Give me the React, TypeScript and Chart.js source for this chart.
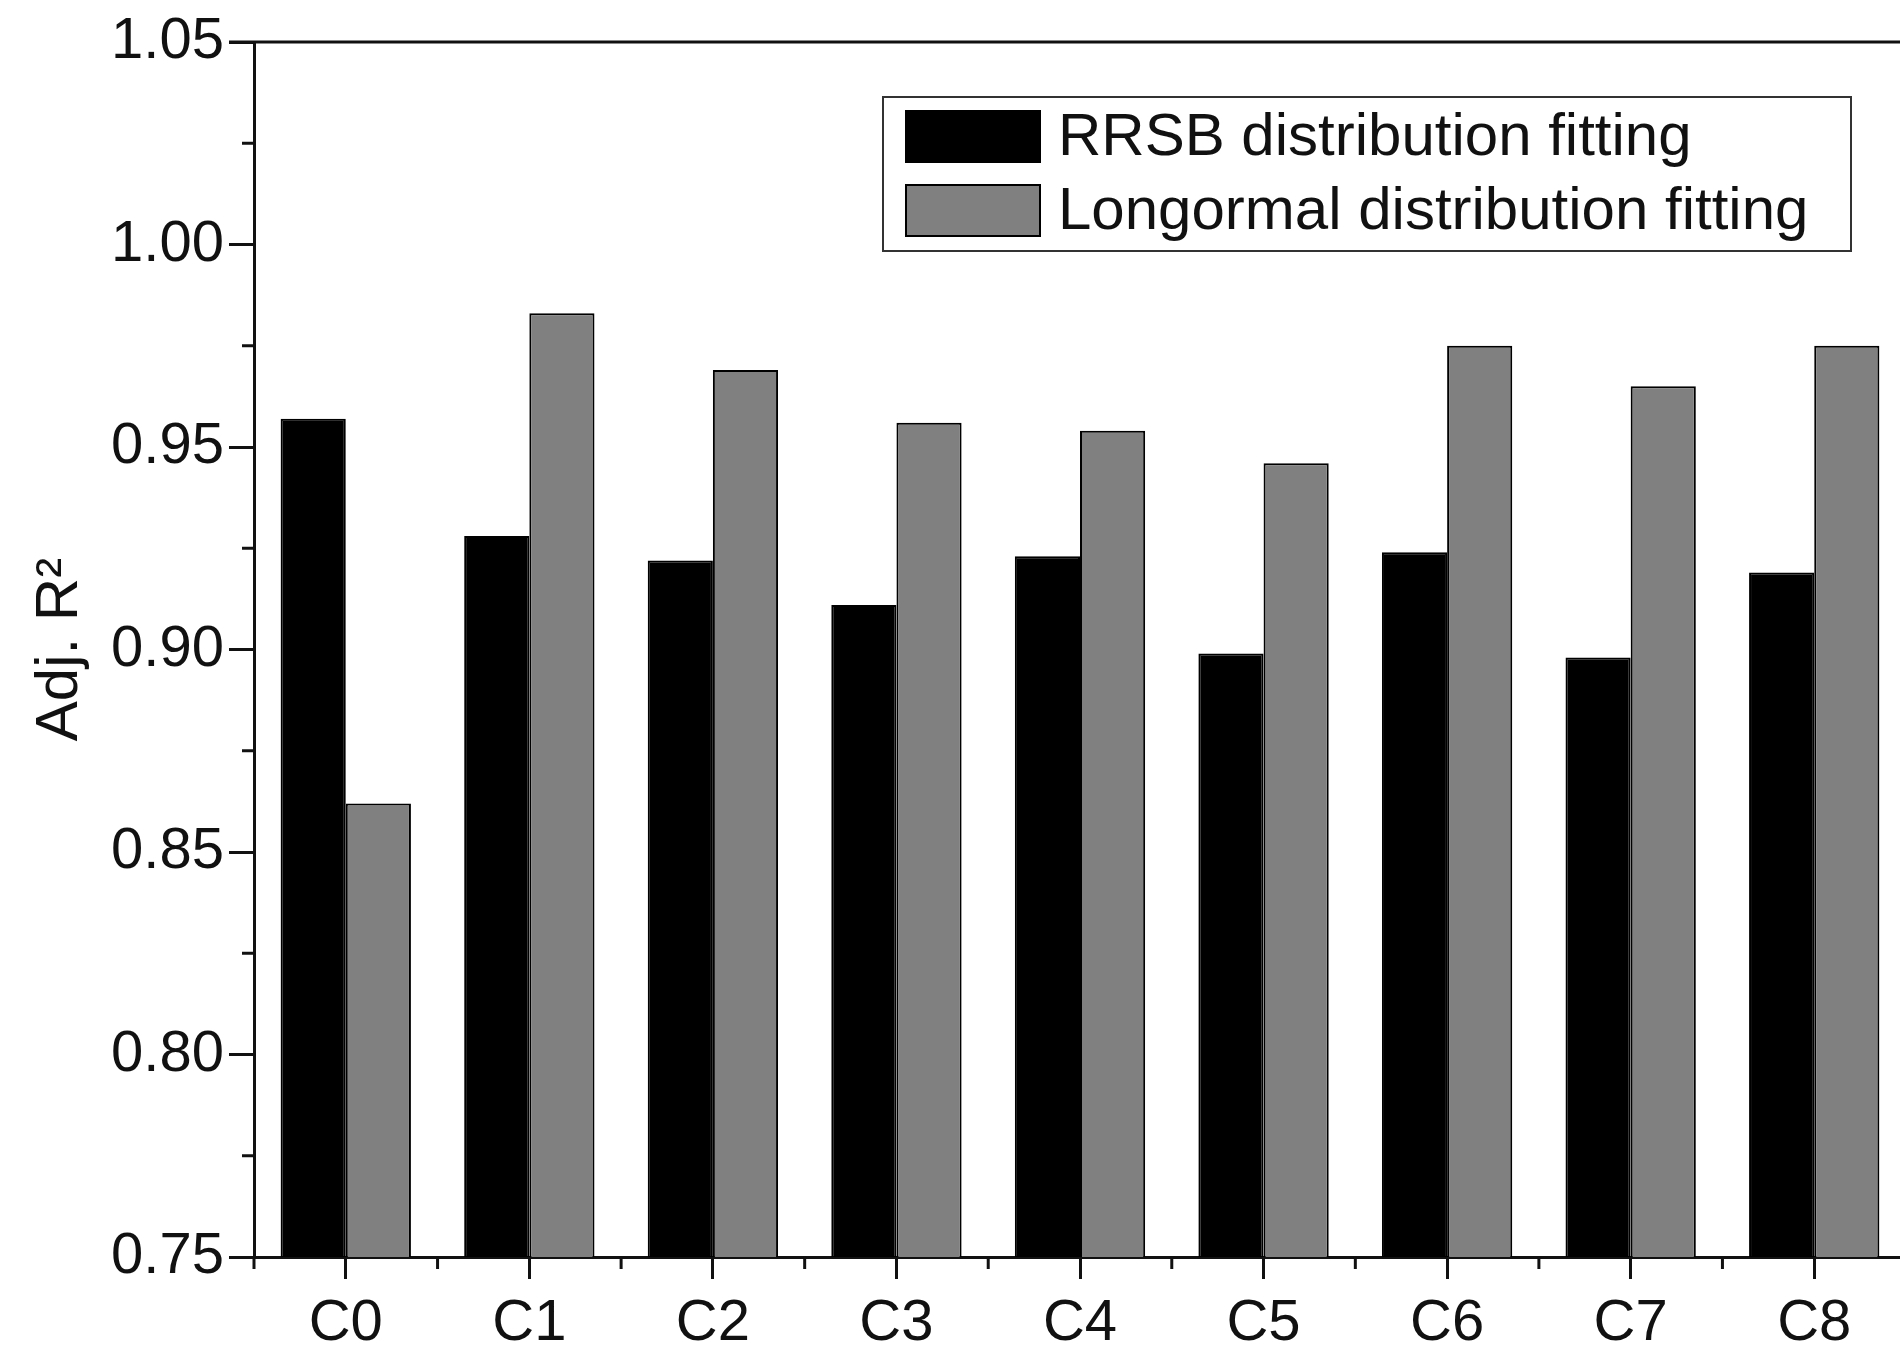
import React, { useEffect, useRef } from "react";
import { Chart, registerables } from "chart.js";

Chart.register(...registerables);

const categories = ["C0", "C1", "C2", "C3", "C4", "C5", "C6", "C7", "C8"];
const rrsbValues = [0.957, 0.928, 0.922, 0.911, 0.923, 0.899, 0.924, 0.898, 0.919];
const lognormalValues = [0.862, 0.983, 0.969, 0.956, 0.954, 0.946, 0.975, 0.965, 0.975];
const seriesLabels = ["RRSB distribution fitting", "Longormal distribution fitting"];
const seriesColors = ["#000000", "#808080"];
const yMin = 0.75;
const yMax = 1.05;
const yStep = 0.05;

const FONT = "'Liberation Sans', Arial, sans-serif";

const framePlugin = {
  id: "frame",
  afterDraw(chart: any) {
    const ctx = chart.ctx;
    const { left, right, top, bottom } = chart.chartArea;
    const xs = chart.scales.x;
    const ys = chart.scales.y;
    ctx.save();
    ctx.strokeStyle = "#111";
    ctx.lineWidth = 3;
    // top border
    ctx.beginPath();
    ctx.moveTo(left - 25, top);
    ctx.lineTo(right, top);
    ctx.stroke();
    // y minor ticks
    for (let v = yMin + yStep / 2; v < yMax; v += yStep) {
      const y = ys.getPixelForValue(v);
      ctx.beginPath();
      ctx.moveTo(left - 12, y);
      ctx.lineTo(left, y);
      ctx.stroke();
    }
    // x minor ticks at category boundaries
    const n = categories.length;
    const spacing = n > 1 ? xs.getPixelForValue(1) - xs.getPixelForValue(0) : right - left;
    for (let i = 0; i <= n; i++) {
      const x = xs.getPixelForValue(0) + (i - 0.5) * spacing;
      ctx.beginPath();
      ctx.moveTo(x, bottom);
      ctx.lineTo(x, bottom + 12);
      ctx.stroke();
    }
    // legend
    const bx = 883, by = 97, bw = 968, bh = 154;
    ctx.lineWidth = 2;
    ctx.strokeStyle = "#333";
    ctx.fillStyle = "#fff";
    ctx.fillRect(bx, by, bw, bh);
    ctx.strokeRect(bx, by, bw, bh);
    ctx.font = `60px ${FONT}`;
    ctx.textBaseline = "middle";
    ctx.textAlign = "left";
    chart.data.datasets.forEach((ds: any, i: number) => {
      const sy = 111 + i * 74;
      ctx.fillStyle = ds.backgroundColor;
      ctx.fillRect(906, sy, 134, 51);
      ctx.strokeStyle = "#000";
      ctx.lineWidth = 2;
      ctx.strokeRect(906, sy, 134, 51);
      ctx.fillStyle = "#111";
      ctx.fillText(ds.label, 1058, sy + 27);
    });
    ctx.restore();
  },
};

export default function App() {
  const ref = useRef<HTMLCanvasElement | null>(null);
  useEffect(() => {
    if (!ref.current) return;
    const chart = new Chart(ref.current, {
      type: "bar",
      data: {
        labels: categories,
        datasets: [
          {
            label: seriesLabels[0],
            data: rrsbValues,
            backgroundColor: seriesColors[0],
            borderColor: "#000",
            borderWidth: 2,
          },
          {
            label: seriesLabels[1],
            data: lognormalValues,
            backgroundColor: seriesColors[1],
            borderColor: "#000",
            borderWidth: 2,
          },
        ],
      },
      options: {
        responsive: false,
        animation: false,
        layout: { padding: { left: 0, right: 0, top: 42, bottom: 0 } },
        datasets: { bar: { categoryPercentage: 0.71, barPercentage: 1 } },
        plugins: {
          legend: { display: false },
          tooltip: { enabled: false },
        },
        scales: {
          x: {
            type: "category",
            offset: true,
            grid: {
              display: true,
              offset: false,
              drawOnChartArea: false,
              drawTicks: true,
              tickLength: 22,
              color: "#111",
              lineWidth: 3,
            },
            border: { display: true, color: "#111", width: 3 },
            ticks: {
              color: "#111",
              font: { family: FONT, size: 58 },
              padding: 10,
              maxRotation: 0,
              autoSkip: false,
            },
            afterFit(scale: any) {
              scale.height = 92;
            },
          },
          y: {
            min: yMin,
            max: yMax,
            grid: {
              display: true,
              drawOnChartArea: false,
              drawTicks: true,
              tickLength: 25,
              color: "#111",
              lineWidth: 3,
            },
            border: { display: true, color: "#111", width: 3 },
            ticks: {
              stepSize: yStep,
              color: "#111",
              font: { family: FONT, size: 58 },
              padding: 5,
              callback: (v: any) => Number(v).toFixed(2),
            },
            title: {
              display: true,
              text: "Adj. R²",
              color: "#111",
              font: { family: FONT, size: 60 },
              padding: { top: 24, bottom: 0 },
            },
            afterFit(scale: any) {
              scale.width = 254;
            },
          },
        },
      },
      plugins: [framePlugin],
    });
    return () => chart.destroy();
  }, []);
  return (
    <div style={{ position: "absolute", left: 0, top: 0, width: 1900, height: 1349, overflow: "hidden", background: "#fff" }}>
      <canvas ref={ref} width={1906} height={1349} style={{ display: "block" }} />
    </div>
  );
}
